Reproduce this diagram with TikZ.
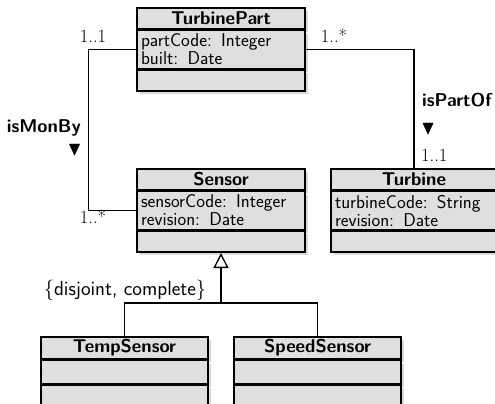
\documentclass[tikz,border=0pt]{standalone}
\usepackage{amssymb}
\usetikzlibrary{positioning,shadows,arrows.meta}

\tikzset{
  umlpart/.style={draw, line width=1.6pt, fill=gray!25, minimum width=168pt, inner sep=0pt,
    drop shadow={shadow xshift=3pt, shadow yshift=-3pt, opacity=0.3}},
  umlhead/.style={umlpart, minimum height=21pt, font=\fontsize{18.5}{18}\selectfont\sffamily\bfseries},
  umlattr/.style={umlpart, minimum height=38pt, text width=160pt, inner xsep=4pt, align=left},
  umlops/.style={umlpart, minimum height=21pt},
  assoc/.style={line width=1.3pt},
  mult/.style={inner sep=1pt, font=\fontsize{18.5}{18}\selectfont\rmfamily},
  role/.style={inner sep=1pt, font=\fontsize{18.5}{18}\selectfont\sffamily\bfseries},
  dirmark/.style={inner sep=0pt, font=\fontsize{19.5}{19}\selectfont},
}

\begin{document}
\begin{tikzpicture}[x=1pt, y=-1pt, font=\fontsize{18.5}{18}\selectfont\sffamily]
    \useasboundingbox (0,0) rectangle (495,404);

    % 1. TurbinePart and Sensor
    \node[umlhead] (tp) at (221,18.5) {TurbinePart};
    \node[umlattr, below=0pt of tp] (tp-a) {partCode: Integer\\built: Date};
    \node[umlops, below=0pt of tp-a] (tp-o) {};

    \node[umlhead] (se) at (221,179.5) {Sensor};
    \node[umlattr, below=0pt of se] (se-a) {sensorCode: Integer\\revision: Date};
    \node[umlops, below=0pt of se-a] (se-o) {};

    % 2. Turbine (runs past the right edge)
    \node[umlhead, minimum width=166pt] (tu) at (414,179.5) {Turbine};
    \node[umlattr, minimum width=166pt, text width=158pt, below=0pt of tu] (tu-a) {turbineCode: String\\revision: Date};
    \node[umlops, minimum width=166pt, below=0pt of tu-a] (tu-o) {};

    % 3. The two subclasses
    \node[umlhead, minimum width=167pt, minimum height=22pt] (ts) at (124.5,348) {TempSensor};
    \node[umlops, minimum width=167pt, minimum height=23pt, below=0pt of ts] (ts-a) {};
    \node[umlops, minimum width=167pt, minimum height=23pt, below=0pt of ts-a] (ts-o) {};

    \node[umlhead, minimum width=167pt, minimum height=22pt] (ss) at (317.5,348) {SpeedSensor};
    \node[umlops, minimum width=167pt, minimum height=23pt, below=0pt of ss] (ss-a) {};
    \node[umlops, minimum width=167pt, minimum height=23pt, below=0pt of ss-a] (ss-o) {};

    % 4. Associations
    \draw[assoc] (tp-a.west) -- ++(-48,0) |- (se-a.west);
    \draw[assoc] (tp-a.east) -| (tu.north);

    % 5. Generalization
    \coordinate (split) at (221,303);
    \draw[assoc] (ts.north) |- (split) -| (ss.north);
    \draw[assoc, -{Triangle[open, length=15pt, width=15pt]}] (split) -- (se-o.south);

    % 6. Labels
    \node[mult] (tp-m) at (93,36) {1..1};
    \node[mult] (tp-pm) at (334,36) {1..*};
    \node[role, anchor=west] (part) at (421,100) {isPartOf};
    \node[dirmark, anchor=west] (part-d) at (421,129) {$\blacktriangledown$};
    \node[mult, anchor=west] (tu-m) at (420,155) {1..1};

    \node[role, anchor=east] (mon) at (82,128) {isMonBy};
    \node[dirmark, anchor=east] (mon-d) at (82,150) {$\blacktriangledown$};
    \node[mult] (se-m) at (93,217) {1..*};

    \node[font=\fontsize{20.5}{22}\selectfont\sffamily] (gs) at (125,290) {\{disjoint, complete\}};

\end{tikzpicture}
\end{document}
